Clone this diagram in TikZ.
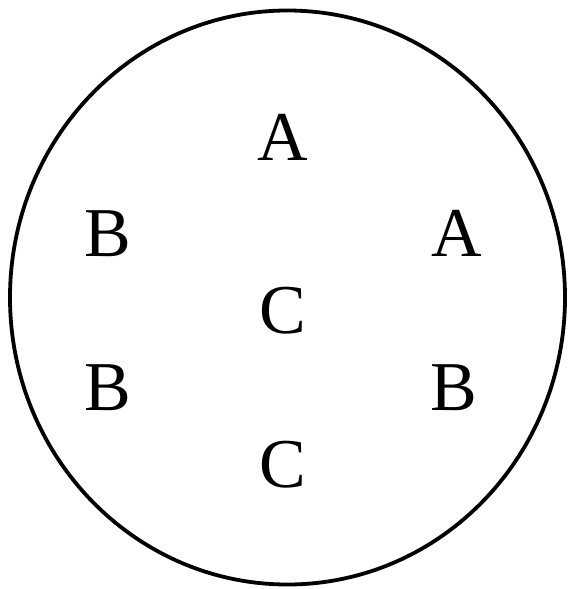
\documentclass[tikz,border=0pt]{standalone}
\usepackage{fontspec}
\setmainfont{Liberation Serif}
\begin{document}
\begin{tikzpicture}[x=1pt,y=-1pt,
  letter/.style={anchor=base,inner sep=0pt,font=\fontsize{70}{70}\selectfont}]
\useasboundingbox (0,0) rectangle (568,589);
\draw[line width=3.8pt] (287.5,297.5) ellipse [x radius=277.5, y radius=287];
\node[letter] (a1) at (283,160) {A};
\node[letter] (b1) at (107.5,256) {B};
\node[letter] (a2) at (457,256) {A};
\node[letter] (c1) at (283,333) {C};
\node[letter] (b2) at (107.5,410) {B};
\node[letter] (b3) at (454,410) {B};
\node[letter] (c2) at (283,487) {C};
\end{tikzpicture}
\end{document}
